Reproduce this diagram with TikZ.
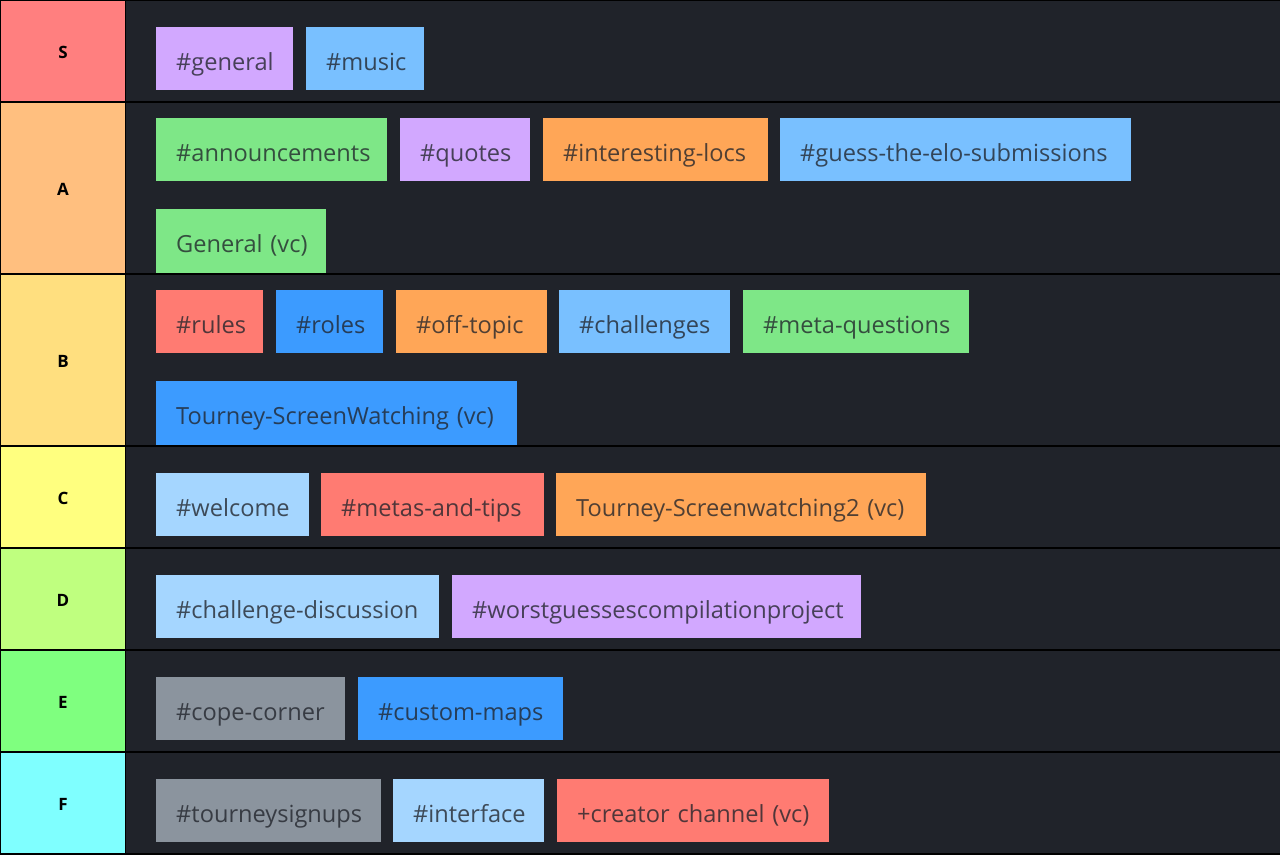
\documentclass[tikz,border=0pt]{standalone}
\usepackage{fontspec}
\setmainfont{Open Sans}
\definecolor{pagebg}{HTML}{20232A}
\definecolor{linebk}{HTML}{000000}
\definecolor{ts}{HTML}{FF7F7F}
\definecolor{ta}{HTML}{FFBF7F}
\definecolor{tb}{HTML}{FFDF7F}
\definecolor{tc}{HTML}{FFFF7F}
\definecolor{td}{HTML}{BFFF7F}
\definecolor{te}{HTML}{7FFF7F}
\definecolor{tf}{HTML}{7FFFFF}
\definecolor{purp}{HTML}{D2A8FF}
\definecolor{blu}{HTML}{79C0FF}
\definecolor{grn}{HTML}{7EE787}
\definecolor{org}{HTML}{FFA657}
\definecolor{redd}{HTML}{FF7B72}
\definecolor{dblu}{HTML}{3C9BFF}
\definecolor{lblu}{HTML}{A5D6FF}
\definecolor{gry}{HTML}{8B949E}
\tikzset{
  tagbox/.style={draw=none,inner sep=0pt,anchor=north west,text=pagebg,text opacity=.78,
    font=\fontsize{23.6}{24}\selectfont,align=left},
}
% name, x0, x1, y0, y1, colour, text
\newcommand{\chan}[7]{%
  \pgfmathsetmacro{\bw}{#3-#2}\pgfmathsetmacro{\bh}{#5-#4}%
  \node[tagbox,fill=#6,minimum width=\bw pt,minimum height=\bh pt,text width=\bw pt,
    text height=29pt,text depth=6pt] (#1) at (#2,#4)
    {\hspace*{20pt}\mbox{#7}};}
% name, y0, y1, colour, text
\newcommand{\tier}[5]{%
  \pgfmathsetmacro{\ty}{(#2+#3)/2+1}%
  \fill[#4] (1,#2) rectangle (125,#3);
  \node[inner sep=0pt,text=black,font=\fontsize{17}{17}\selectfont\bfseries] (#1) at (63,\ty) {#5};}
\begin{document}
\begin{tikzpicture}[x=1pt,y=-1pt]
\useasboundingbox (0,0) rectangle (1280,855);
\fill[linebk] (0,0) rectangle (1280,855);
\fill[pagebg] (126,1) rectangle (1280,101);
\fill[pagebg] (126,103) rectangle (1280,273);
\fill[pagebg] (126,275) rectangle (1280,445);
\fill[pagebg] (126,447) rectangle (1280,547);
\fill[pagebg] (126,549) rectangle (1280,649);
\fill[pagebg] (126,651) rectangle (1280,751);
\fill[pagebg] (126,753) rectangle (1280,853);
\tier{tS}{1}{101}{ts}{S}
\tier{tA}{103}{273}{ta}{A}
\tier{tB}{275}{445}{tb}{B}
\tier{tC}{447}{547}{tc}{C}
\tier{tD}{549}{649}{td}{D}
\tier{tE}{651}{751}{te}{E}
\tier{tF}{753}{853}{tf}{F}
\chan{a1}{156}{293}{27}{90}{purp}{\#general}
\chan{a2}{306}{424}{27}{90}{blu}{\#music}
\chan{b1}{156}{387}{118}{181}{grn}{\#announcements}
\chan{b2}{400}{530}{118}{181}{purp}{\#quotes}
\chan{b3}{543}{768}{118}{181}{org}{\#interesting-locs}
\chan{b4}{780}{1131}{118}{181}{blu}{\#guess-the-elo-submissions}
\chan{b5}{156}{326}{209}{273}{grn}{General (vc)}
\chan{c1}{156}{263}{290}{353}{redd}{\#rules}
\chan{c2}{276}{383}{290}{353}{dblu}{\#roles}
\chan{c3}{396}{547}{290}{353}{org}{\#off-topic}
\chan{c4}{559}{730}{290}{353}{blu}{\#challenges}
\chan{c5}{743}{969}{290}{353}{grn}{\#meta-questions}
\chan{c6}{156}{517}{381}{445}{dblu}{Tourney-ScreenWatching (vc)}
\chan{d1}{156}{309}{473}{536}{lblu}{\#welcome}
\chan{d2}{321}{544}{473}{536}{redd}{\#metas-and-tips}
\chan{d3}{556}{926}{473}{536}{org}{Tourney-Screenwatching2 (vc)}
\chan{e1}{156}{439}{575}{638}{lblu}{\#challenge-discussion}
\chan{e2}{452}{861}{575}{638}{purp}{\#worstguessescompilationproject}
\chan{f1}{156}{345}{677}{740}{gry}{\#cope-corner}
\chan{f2}{358}{563}{677}{740}{dblu}{\#custom-maps}
\chan{g1}{156}{381}{779}{842}{gry}{\#tourneysignups}
\chan{g2}{393}{544}{779}{842}{lblu}{\#interface}
\chan{g3}{557}{829}{779}{842}{redd}{+creator channel (vc)}
\end{tikzpicture}
\end{document}
